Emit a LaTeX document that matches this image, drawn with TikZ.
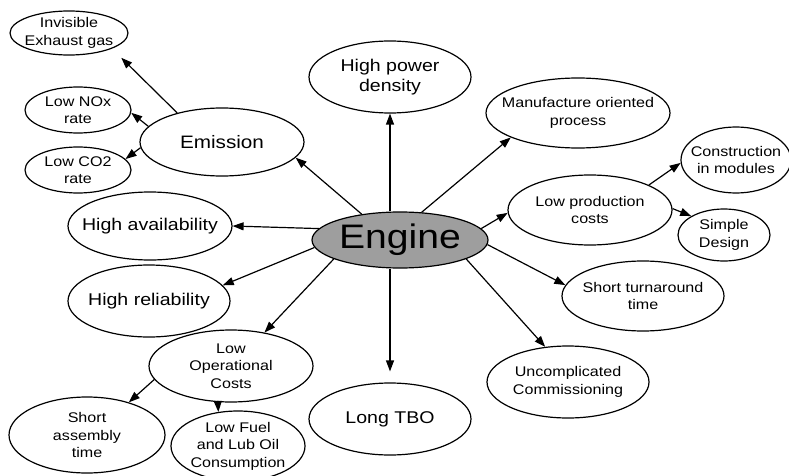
\documentclass[tikz,border=0pt]{standalone}
\usepackage{fontspec}
\setmainfont{Liberation Sans}[FakeStretch=1.15]
\usetikzlibrary{shapes.geometric,arrows.meta}
\newcommand{\bigtxt}{\fontsize{17}{20}\selectfont}
\newcommand{\smalltxt}{\fontsize{14}{17.5}\selectfont}
\begin{document}
\begin{tikzpicture}[x = 1pt, y = -1pt,
        every node/.style={inner sep=0pt, align=center},
        every path/.style={line width=1.2pt}
]
\tikzstyle{bubble}= [draw, ellipse]
\useasboundingbox (0,0) rectangle (789,476);
    \node[bubble, fill=black!38, minimum width=176, minimum height=56, font=\fontsize{34}{38}\selectfont] (engine) at (400,240) {Engine};
    \node[bubble, minimum width=162, minimum height=72, label={[font=\bigtxt]center:High power\\density}] (power) at (390,77) {};
    \node[bubble, minimum width=164, minimum height=68, label={[font=\fontsize{18}{20}\selectfont]center:Emission}] (emission) at (222,142) {};
    \node[bubble, minimum width=118, minimum height=44, label={[font=\smalltxt]center:Invisible\\Exhaust gas}] (exhaust) at (69,33) {};
    \node[bubble, minimum width=106, minimum height=46, label={[font=\smalltxt]center:Low NOx\\rate}] (nox) at (78,110) {};
    \node[bubble, minimum width=106, minimum height=46, label={[font=\smalltxt]center:Low CO2\\rate}] (co2) at (78,170) {};
    \node[bubble, minimum width=164, minimum height=68, label={[font=\bigtxt]center:High availability}] (avail) at (150,226) {};
    \node[bubble, minimum width=162, minimum height=72, label={[font=\bigtxt]center:High reliability}] (reliab) at (149,301) {};
    \node[bubble, minimum width=164, minimum height=72, label={[font=\smalltxt]center:Low\\Operational\\Costs}] (opcost) at (231,366) {};
    \node[bubble, minimum width=156, minimum height=76, label={[font=\smalltxt]center:Short\\assembly\\time}] (assembly) at (87,435) {};
    \node[bubble, minimum width=134, minimum height=70, label={[font=\smalltxt]center:Low Fuel\\and Lub Oil\\Consumption}] (fuel) at (238,446) {};
    \node[bubble, minimum width=162, minimum height=72, label={[font=\bigtxt]center:Long TBO}] (tbo) at (390,419) {};
    \node[bubble, minimum width=184, minimum height=70, label={[font=\smalltxt]center:Manufacture oriented\\process}] (manuf) at (578,113) {};
    \node[bubble, minimum width=164, minimum height=70, label={[font=\smalltxt]center:Low production\\costs}] (lowprod) at (590,210) {};
    \node[bubble, minimum width=110, minimum height=66, label={[font=\smalltxt]center:Construction\\in modules}] (constr) at (736,160) {};
    \node[bubble, minimum width=92, minimum height=52, label={[font=\smalltxt]center:Simple\\Design}] (simple) at (724,235) {};
    \node[bubble, minimum width=162, minimum height=70, label={[font=\smalltxt]center:Short turnaround\\time}] (turn) at (643,296) {};
    \node[bubble, minimum width=162, minimum height=72, label={[font=\smalltxt]center:Uncomplicated\\Commissioning}] (uncompl) at (568,382) {};
\begin{scope}[every path/.style={-{Triangle[length=11pt,width=8pt]}, line width=1.2pt}]
    % from the engine
    \draw (engine.146) -- (emission.-12);
    \draw (engine.north -| power) -- (power);
    \draw (engine.52) -- (manuf.200);
    \draw (engine.8) -- (lowprod.182);
    \draw (engine.-3) -- (turn.172);
    \draw (engine.-16) -- (uncompl.123);
    \draw[shorten >=11pt] (engine.south -| tbo) -- (tbo);
    \draw (engine.172) -- (avail.east);
    \draw (engine.185) -- (reliab.12);
    \draw (engine.196) -- (opcost.45);
    % second level
    \draw[shorten >=13pt] (emission.147) -- (exhaust.-20);
    \draw (emission.168) -- (nox.-3);
    \draw (emission.184) -- (co2.13);
    \draw (lowprod.23) -- (constr.183);
    \draw (lowprod.1) -- (simple.150);
    \draw (opcost.190) -- (assembly.38);
    \draw (opcost.250) -- (fuel.120);
\end{scope}

\end{tikzpicture}
\end{document}
